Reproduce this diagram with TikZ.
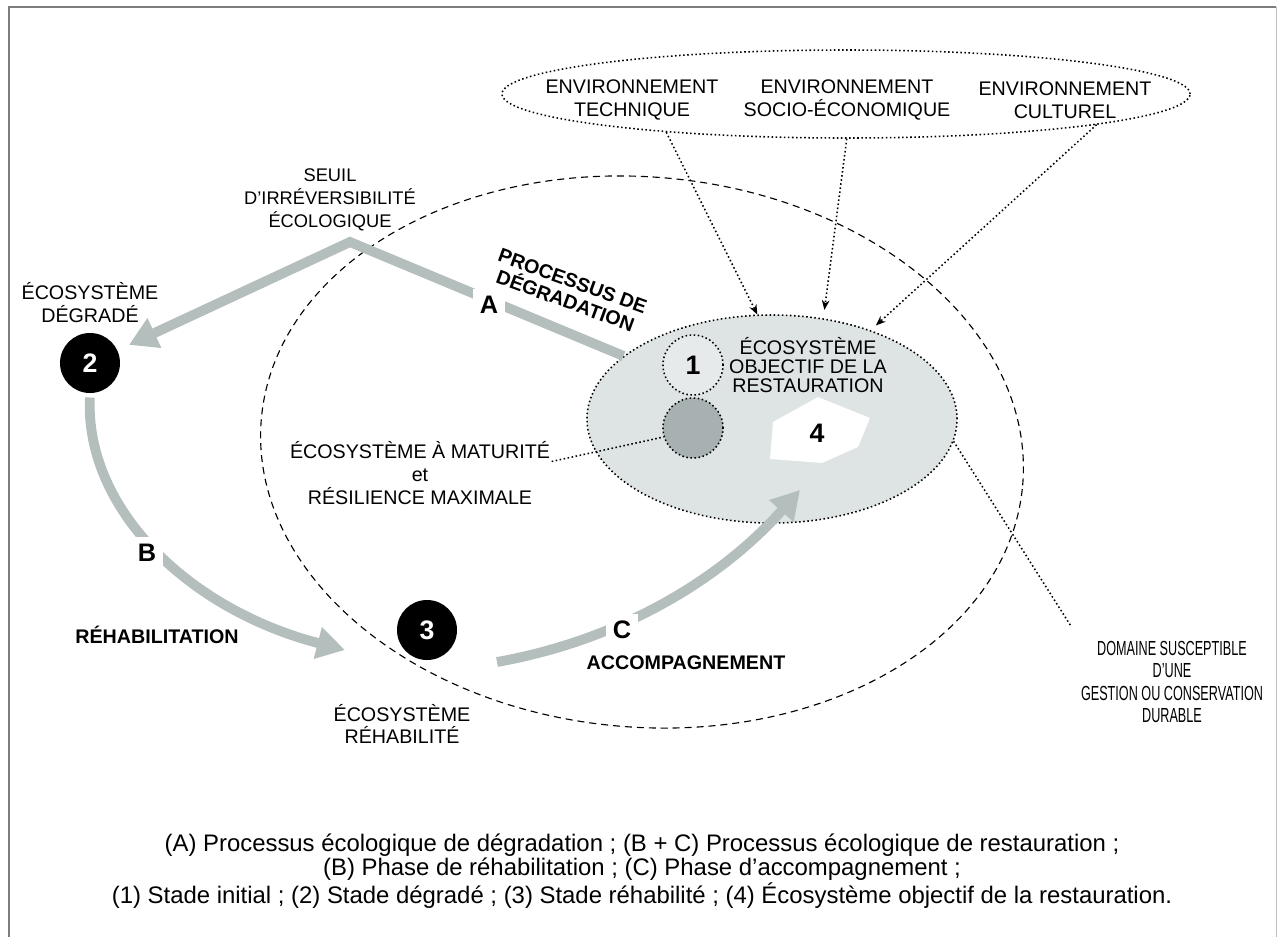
\documentclass[tikz,border=0pt]{standalone}
\usepackage{fontspec}
\setmainfont{Liberation Sans}
\newfontfamily\narrowfont{Liberation Sans}[FakeStretch=0.62]
\usetikzlibrary{positioning, shapes.geometric, arrows.meta}

\definecolor{flowgrey}{RGB}{180,190,188}
\definecolor{goalgrey}{RGB}{222,227,228}
\definecolor{initgrey}{RGB}{231,234,235}
\definecolor{maturegrey}{RGB}{168,177,178}
\definecolor{framegrey}{RGB}{125,125,125}

\tikzset{
  lbl/.style={align=center, inner sep=1pt, font=\fontsize{14}{16.5}\selectfont},
  blbl/.style={lbl, font=\fontsize{14}{15}\selectfont\bfseries},
  letter/.style={fill=white, inner sep=5pt, font=\fontsize{18}{18}\selectfont\bfseries},
  stage/.style={circle, fill=black, text=white, minimum size=1.5cm, inner sep=0pt, font=\fontsize{19}{19}\selectfont\bfseries},
  dotline/.style={line width=1.1pt, dash pattern=on 1.1pt off 1.8pt},
  dotarrow/.style={dotline, -{Stealth[length=7pt, width=5.5pt]}},
  flow/.style={draw=flowgrey, line width=7pt, -{Triangle[length=20pt, width=22pt]}},
}

\begin{document}
\begin{tikzpicture}[x=0.025cm, y=-0.025cm]
  \useasboundingbox (0,0) rectangle (1284,936);
  % cadre
  \draw[framegrey, line width=1.4pt] (9,950) -- (9,7) -- (1276,7);
  \draw[framegrey!50, line width=0.6pt] (1276,7) -- (1276,950);

  % domaine et environnements
  \node[ellipse, draw, line width=0.8pt, dash pattern=on 5pt off 3.5pt, minimum width=19.1cm, minimum height=13.75cm, rotate=-5] (zone) at (642,452) {};
  \node[ellipse, draw, dotline, minimum width=17.2cm, minimum height=2.2cm] (env) at (846,94) {};
  \node[lbl] (tech) at (632,100) {ENVIRONNEMENT\\TECHNIQUE};
  \node[lbl] (socio) at (847,100) {ENVIRONNEMENT\\SOCIO-ÉCONOMIQUE};
  \node[lbl] (cult) at (1065,100) {ENVIRONNEMENT\\CULTUREL};

  % écosystème objectif
  \node[ellipse, draw, dotline, fill=goalgrey, minimum width=9.25cm, minimum height=5.2cm] (goal) at (772,419) {};
  \node[circle, draw, dotline, fill=initgrey, minimum size=1.5cm, inner sep=0pt, font=\fontsize{19}{19}\selectfont\bfseries] (n1) at (693,365) {1};
  \node[circle, draw, dotline, fill=maturegrey, minimum size=1.5cm] (mature) at (693,428) {};
  \fill[white] (773,422) -- (818,397) -- (870,418) -- (858,447) -- (822,463) -- (770,459) -- cycle;
  \node[font=\fontsize{19}{19}\selectfont\bfseries] (n4) at (817,433) {4};
  \node[lbl, font=\fontsize{14}{13.5}\selectfont] (goaltxt) at (808,365) {ÉCOSYSTÈME\\OBJECTIF DE LA\\RESTAURATION};

  \draw[dotarrow] (env.192) -- (goal.98);
  \draw[dotarrow, shorten >=6pt] (env.271) -- (goal.63);
  \draw[dotarrow, shorten >=5pt] (env.353) -- (goal.42);

  % stades
  \node[stage] (n2) at (90,363) {2};
  \node[stage] (n3) at (427,630) {3};
  \node[lbl] (degr) [above = 0.2cm of n2] {ÉCOSYSTÈME\\DÉGRADÉ};
  \node[lbl, font=\fontsize{14}{15.5}\selectfont] (rehab) at (402,724) {ÉCOSYSTÈME\\RÉHABILITÉ};

  % trajectoires
  \coordinate (seuilpt) at (350,242);
  \coordinate (btip) at (345,650);
  \coordinate (cstart) at (497,662);
  \coordinate (ctip) at (800,490);
  \draw[flow, shorten >=9pt] (goal.157) -- (seuilpt) -- (n2);
  \draw[flow, shorten <=3pt] (n2.south) .. controls (85,510) and (190,610) .. (btip);
  \draw[flow] (cstart) .. controls (620,640) and (720,580) .. (ctip);
  \node[letter] (la) at (489,305) {A};
  \node[letter] (lb) at (147,553) {B};
  \node[letter] (lc) at (622,630) {C};

  \node[lbl, font=\fontsize{13}{16.5}\selectfont] (seuil) at (330,200) {SEUIL\\D’IRRÉVERSIBILITÉ\\ÉCOLOGIQUE};
  \node[blbl, rotate=-20] (degproc) at (569,291) {PROCESSUS DE\\DÉGRADATION};
  \node[blbl] (rehabproc) at (157,635) {RÉHABILITATION};
  \node[blbl] (accomp) at (686,663) {ACCOMPAGNEMENT};

  % maturité et domaine
  \node[lbl, font=\fontsize{14}{16.5}\selectfont] (mat) at (420,473) {ÉCOSYSTÈME À MATURITÉ\\et\\RÉSILIENCE MAXIMALE};
  \node[lbl, font=\narrowfont\fontsize{14.5}{16}\selectfont] (domaine) at (1172,682) {DOMAINE SUSCEPTIBLE\\D’UNE\\GESTION OU CONSERVATION\\DURABLE};
  \draw[dotline] (mat.5) -- (mature.197);
  \draw[dotline, shorten >=12pt] (goal.-7) -- (domaine.north west);

  % légende
  \node[align=center, font=\fontsize{17}{17.3}\selectfont] (caption) at (642,871) {(A) Processus écologique de dégradation ; (B + C) Processus écologique de restauration ;\\(B) Phase de réhabilitation ; (C) Phase d’accompagnement ;\\(1) Stade initial ; (2) Stade dégradé ; (3) Stade réhabilité ; (4) Écosystème objectif de la restauration.};
\end{tikzpicture}
\end{document}
